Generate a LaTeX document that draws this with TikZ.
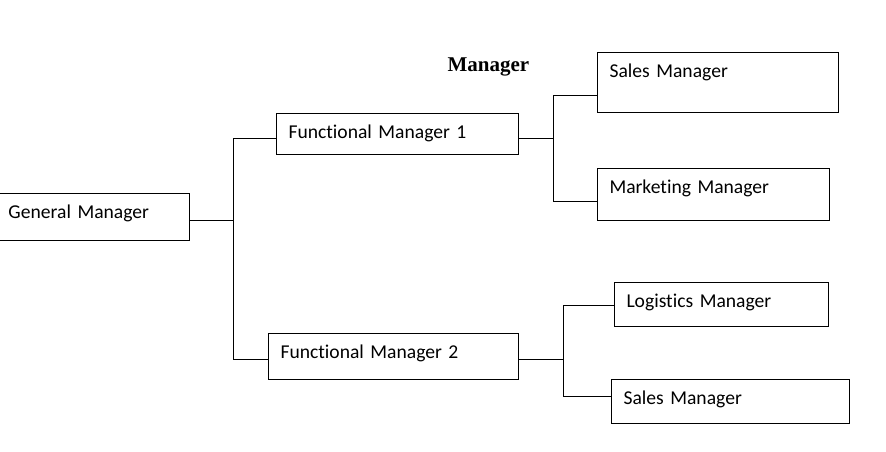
\documentclass[tikz,border=0pt]{standalone}
\usepackage{fontspec}
\setmainfont[Ligatures=NoCommon]{Carlito}
\newfontfamily\titlefont{Liberation Serif}

\begin{document}
\begin{tikzpicture}[x=1pt, y=-1pt, line width=1pt,
	role/.style = {draw, anchor=north west, align=left, inner xsep=12pt, inner ysep=0pt, text height=25pt, font=\fontsize{19.6}{22}\selectfont}]
	\useasboundingbox (0,0) rectangle (886,452);

	%% Nodes
	\node[anchor=base west, inner sep=0pt, font=\titlefont\bfseries\fontsize{21}{24}\selectfont] (0) at (447,71) {Manager};

	\node[role, text width=169pt, text depth=22pt] (1) at (-4,193) {General Manager};

	\node[role, text width=218pt, text depth=16pt] (2) at (276,113) {Functional Manager 1};
	\node[role, text width=226pt, text depth=21pt] (3) at (268,333) {Functional Manager 2};

	\node[role, text width=217pt, text depth=35pt] (4) at (597,52) {Sales Manager};
	\node[role, text width=208pt, text depth=27pt] (5) at (597,168) {Marketing Manager};

	\node[role, text width=190pt, text depth=19pt] (6) at (614,282) {Logistics Manager};
	\node[role, text width=214pt, text depth=19pt] (7) at (611,379) {Sales Manager};

	%% Bends
	\coordinate (a0) at (233,220);
	\coordinate (a1) at (233,138);
	\coordinate (a2) at (233,359);
	\coordinate (b0) at (553,138);
	\coordinate (b1) at (553,95);
	\coordinate (b2) at (553,201);
	\coordinate (c0) at (563,359);
	\coordinate (c1) at (563,305);
	\coordinate (c2) at (563,396);

	%% Edges
	\draw (1.east |- a0) -- (a0);
	\draw (2.west |- a1) -- (a1) -- (a2) -- (3.west |- a2);
	\draw (2.east |- b0) -- (b0);
	\draw (4.west |- b1) -- (b1) -- (b2) -- (5.west |- b2);
	\draw (3.east |- c0) -- (c0);
	\draw (6.west |- c1) -- (c1) -- (c2) -- (7.west |- c2);

\end{tikzpicture}
\end{document}
